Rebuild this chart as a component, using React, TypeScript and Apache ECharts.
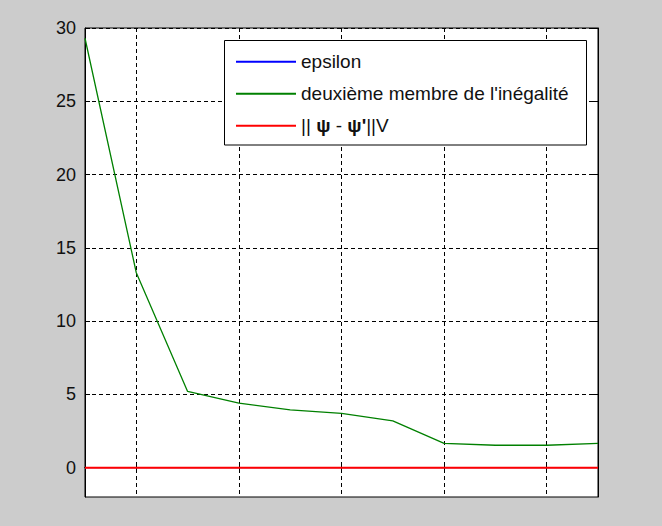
import React, { useEffect, useRef } from "react";
import * as echarts from "echarts";

const categories = ["1", "2", "3", "4", "5", "6", "7", "8", "9", "10", "11"];
const epsilonValues = [0, 0, 0, 0, 0, 0, 0, 0, 0, 0, 0];
const deuxiemeValues = [29.3, 13.3, 5.2, 4.4, 3.95, 3.7, 3.2, 1.66, 1.53, 1.53, 1.66];
const normValues = [0, 0, 0, 0, 0, 0, 0, 0, 0, 0, 0];
const yTickValues = [0, 5, 10, 15, 20, 25, 30];
const seriesNames = ["epsilon", "deuxième membre de l'inégalité", "|| ψ - ψ'||V"];

const FONT = "'Liberation Sans', Arial, Helvetica, sans-serif";

export default function App() {
  const ref = useRef<HTMLDivElement>(null);

  useEffect(() => {
    if (!ref.current) return;
    const chart = echarts.init(ref.current, undefined, { renderer: "svg" });
    const oddTick = (i: number) => i % 2 === 1;
    const dashed = { color: "#000", width: 1, type: [4, 3] as any };

    chart.setOption({
      animation: false,
      backgroundColor: "#cccccc",
      grid: {
        left: 85,
        top: 28,
        right: 64,
        bottom: 29,
        show: true,
        backgroundColor: "#ffffff",
        borderColor: "#000",
        borderWidth: 1,
      },
      xAxis: [
        {
          type: "category",
          data: categories,
          boundaryGap: false,
          axisLine: { lineStyle: { color: "#000" } },
          axisTick: { inside: true, length: 5, interval: oddTick, lineStyle: { color: "#000" } },
          axisLabel: { show: false },
          splitLine: { show: true, interval: oddTick, lineStyle: dashed },
        },
        {
          type: "category",
          data: categories,
          position: "top",
          boundaryGap: false,
          axisLine: { lineStyle: { color: "#000" } },
          axisTick: { inside: true, length: 5, interval: oddTick, lineStyle: { color: "#000" } },
          axisLabel: { show: false },
          splitLine: { show: false },
        },
      ],
      yAxis: [
        {
          type: "value",
          min: -2,
          max: 30,
          axisLine: { show: true, lineStyle: { color: "#000" } },
          axisTick: { show: true, inside: true, length: 5, customValues: yTickValues, lineStyle: { color: "#000" } },
          axisLabel: {
            customValues: yTickValues,
            fontFamily: FONT,
            fontSize: 18,
            color: "#111",
            margin: 9,
          },
          splitLine: { show: true, lineStyle: dashed },
        },
        {
          type: "value",
          min: -2,
          max: 30,
          position: "right",
          axisLine: { show: true, lineStyle: { color: "#000" } },
          axisTick: { show: true, inside: true, length: 5, customValues: yTickValues, lineStyle: { color: "#000" } },
          axisLabel: { show: false },
          splitLine: { show: false },
        },
      ],
      legend: {
        orient: "vertical",
        left: 236,
        top: 51.7,
        padding: 0,
        itemGap: 12,
        itemWidth: 60,
        itemHeight: 2,
        icon: "rect",
        data: seriesNames,
        formatter: (name: string) =>
          name === seriesNames[2] ? "|| {b|ψ} - {b|ψ'}||V" : name,
        textStyle: {
          fontFamily: FONT,
          fontSize: 19,
          lineHeight: 20,
          color: "#111",
          rich: {
            b: { fontFamily: FONT, fontSize: 19, fontWeight: "bold", color: "#111", lineHeight: 20 },
          },
        },
      },
      graphic: [
        {
          type: "rect",
          z: 3,
          shape: { x: 224.5, y: 40.5, width: 362, height: 104.5 },
          style: { fill: "#ffffff", stroke: "#000", lineWidth: 1 },
        },
      ],
      series: [
        {
          name: seriesNames[0],
          type: "line",
          data: epsilonValues,
          showSymbol: false,
          symbol: "none",
          color: "#0000ff",
          lineStyle: { color: "#0000ff", width: 1 },
        },
        {
          name: seriesNames[1],
          type: "line",
          data: deuxiemeValues,
          showSymbol: false,
          symbol: "none",
          color: "#008000",
          lineStyle: { color: "#008000", width: 1.3 },
        },
        {
          name: seriesNames[2],
          type: "line",
          data: normValues,
          showSymbol: false,
          symbol: "none",
          color: "#ff0000",
          lineStyle: { color: "#ff0000", width: 2 },
        },
      ],
    });

    return () => chart.dispose();
  }, []);

  return (
    <div
      ref={ref}
      style={{ position: "fixed", left: 0, top: 0, width: 662, height: 526 }}
    />
  );
}
